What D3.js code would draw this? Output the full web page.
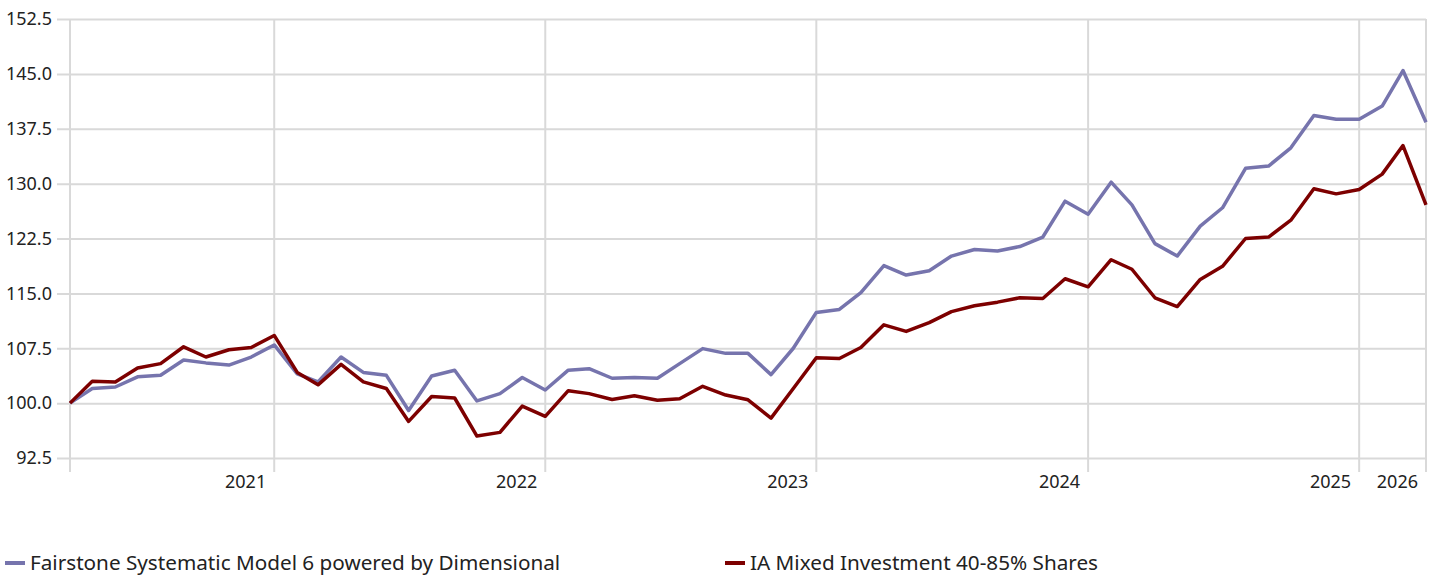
<!DOCTYPE html>
<html>
<head>
<meta charset="utf-8">
<script src="https://cdn.jsdelivr.net/npm/d3@7"></script>
<style>
  body { margin: 0; background: #fff; }
  text { font-family: "Segoe UI", "Noto Sans", "Open Sans", sans-serif; fill: #222; }
</style>
</head>
<body>
<div id="chart"></div>
<script>
// monthly index values, Apr 2021 .. Apr 2026
const startDate = new Date(2021, 3, 1);
const endDate = new Date(2026, 3, 1);

const seriesNames = [
    "Fairstone Systematic Model 6 powered by Dimensional",
    "IA Mixed Investment 40-85% Shares"
];

const fairstone = [
    100.0, 102.0, 102.2, 103.6, 103.8, 105.9, 105.5, 105.2, 106.3, 107.95, 104.0, 102.9, 106.3, 104.2, 103.8,
    99.0, 103.7, 104.5, 100.3, 101.3, 103.5, 101.8, 104.5, 104.7, 103.4, 103.5, 103.4, 105.4, 107.45, 106.8,
    106.8, 103.9, 107.5, 112.4, 112.8, 115.1, 118.8, 117.5, 118.1, 120.1, 121.0, 120.8, 121.4, 122.7, 127.6,
    125.8, 130.2, 127.1, 121.8, 120.1, 124.2, 126.7, 132.1, 132.4, 134.9, 139.3, 138.8, 138.8, 140.6, 145.45, 138.4
];

const sector = [
    100.0, 103.0, 102.9, 104.8, 105.4, 107.7, 106.3, 107.3, 107.6, 109.25, 104.2, 102.5, 105.3, 102.9, 102.0,
    97.5, 100.9, 100.7, 95.5, 96.0, 99.6, 98.2, 101.7, 101.3, 100.5, 101.0, 100.4, 100.6, 102.3, 101.1,
    100.45, 97.95, 102.0, 106.2, 106.1, 107.6, 110.7, 109.8, 111.0, 112.5, 113.3, 113.8, 114.4, 114.3, 117.0,
    115.9, 119.6, 118.3, 114.4, 113.2, 116.9, 118.7, 122.5, 122.7, 125.0, 129.3, 128.6, 129.2, 131.3, 135.2, 127.1
];

const yTicks = [92.5, 100.0, 107.5, 115.0, 122.5, 130.0, 137.5, 145.0, 152.5];
const yearLabels = [2021, 2022, 2023, 2024, 2025, 2026];

const colors = ["#7674ad", "#7d0000"];

const svgWidth = 1435;
const svgHeight = 577;

const margin = { top: 19, right: 9, bottom: 119, left: 70 };
const width = svgWidth - margin.left - margin.right;
const height = svgHeight - margin.top - margin.bottom;

const svg = d3.select("#chart")
    .append("svg")
    .attr("width", svgWidth)
    .attr("height", svgHeight);

const chartGroup = svg.append("g")
    .attr("transform", `translate(${margin.left}, ${margin.top})`);

const xScale = d3.scaleTime()
    .domain([startDate, endDate])
    .range([0, width]);

const yScale = d3.scaleLinear()
    .domain([92.5, 152.5])
    .range([height, 0]);

const dates = fairstone.map((d, i) => d3.timeMonth.offset(startDate, i));

// horizontal grid + ticks
const leftAxis = d3.axisLeft(yScale)
    .tickValues(yTicks)
    .tickFormat(d3.format(".1f"))
    .tickSize(-width - 13)
    .tickPadding(5);

const yAxis = chartGroup.append("g")
    .attr("transform", "translate(-13, 0)")
    .call(leftAxis);
yAxis.select(".domain").remove();
yAxis.selectAll("line").attr("stroke", "#d9d9d9").attr("stroke-width", 2);
yAxis.selectAll("text").style("font-size", "18px").attr("fill", "#222");

// vertical grid lines: edges and year starts
const yearStarts = d3.timeYear.range(d3.timeYear.ceil(startDate), endDate);
const xLines = [startDate].concat(yearStarts).concat([endDate]);

chartGroup.append("g")
    .selectAll("line")
    .data(xLines)
    .enter()
    .append("line")
    .attr("x1", d => xScale(d))
    .attr("x2", d => xScale(d))
    .attr("y1", 0)
    .attr("y2", height + 14)
    .attr("stroke", "#d9d9d9")
    .attr("stroke-width", 2);

// each year's label sits at the right end of its segment
chartGroup.append("g")
    .selectAll("text")
    .data(yearLabels)
    .enter()
    .append("text")
    .attr("x", d => xScale(d3.min([new Date(d + 1, 0, 1), endDate])) - 8)
    .attr("y", height + 30)
    .attr("text-anchor", "end")
    .style("font-size", "18px")
    .text(d => d);

const line = d3.line()
    .x((d, i) => xScale(dates[i]))
    .y(d => yScale(d));

[fairstone, sector].forEach((series, k) => {
    chartGroup.append("path")
        .datum(series)
        .attr("fill", "none")
        .attr("stroke", colors[k])
        .attr("stroke-width", 3.5)
        .attr("stroke-linejoin", "round")
        .attr("d", line);
});

// legend
const legendX = [5, 725];

const legend = svg.append("g")
    .selectAll("g")
    .data(seriesNames)
    .enter()
    .append("g")
    .attr("transform", (d, i) => `translate(${legendX[i]}, 563)`);

legend.append("line")
    .attr("x1", 0)
    .attr("x2", 20)
    .attr("stroke", (d, i) => colors[i])
    .attr("stroke-width", 4);

legend.append("text")
    .attr("x", 25)
    .attr("dy", "0.35em")
    .style("font-size", "20.7px")
    .text(d => d);
</script>
</body>
</html>
